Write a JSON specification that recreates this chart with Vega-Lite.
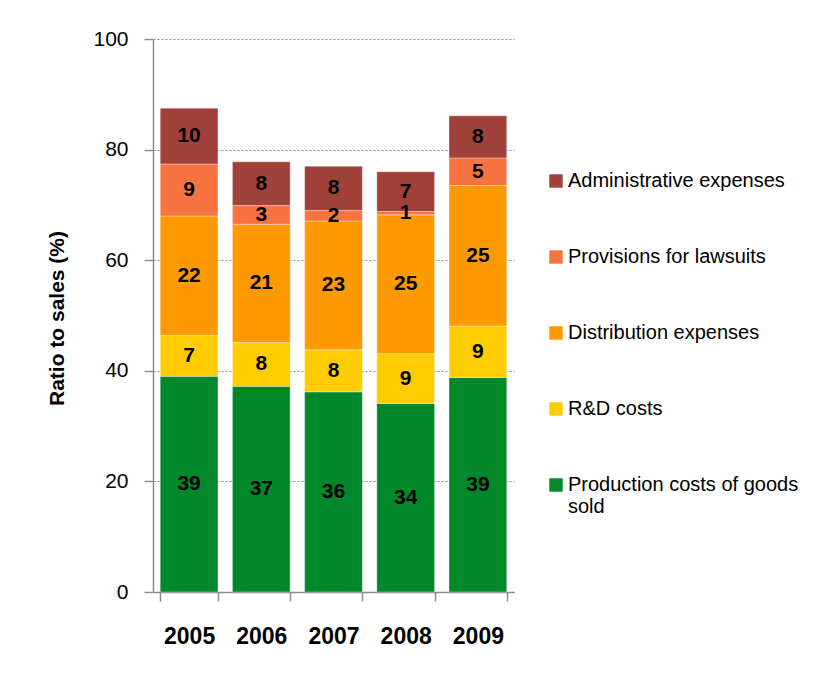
{
  "$schema": "https://vega.github.io/schema/vega-lite/v6.json",
  "width": 361,
  "height": 553,
  "autosize": {"type": "none"},
  "padding": {"left": 153, "top": 39, "right": 318, "bottom": 83},
  "background": "white",
  "config": {
    "view": {"stroke": null},
    "font": "Liberation Sans",
    "axis": {"labelFont": "Liberation Sans", "titleFont": "Liberation Sans"},
    "legend": {"labelFont": "Liberation Sans"},
    "text": {"font": "Liberation Sans"}
  },
  "data": {
    "values": [
      {"year": "2005", "cat": "Production costs of goods sold", "k": 1, "value": 39.0},
      {"year": "2005", "cat": "R&D costs", "k": 2, "value": 7.4},
      {"year": "2005", "cat": "Distribution expenses", "k": 3, "value": 21.6},
      {"year": "2005", "cat": "Provisions for lawsuits", "k": 4, "value": 9.4},
      {"year": "2005", "cat": "Administrative expenses", "k": 5, "value": 10.1},
      {"year": "2006", "cat": "Production costs of goods sold", "k": 1, "value": 37.2},
      {"year": "2006", "cat": "R&D costs", "k": 2, "value": 7.9},
      {"year": "2006", "cat": "Distribution expenses", "k": 3, "value": 21.4},
      {"year": "2006", "cat": "Provisions for lawsuits", "k": 4, "value": 3.4},
      {"year": "2006", "cat": "Administrative expenses", "k": 5, "value": 7.9},
      {"year": "2007", "cat": "Production costs of goods sold", "k": 1, "value": 36.2},
      {"year": "2007", "cat": "R&D costs", "k": 2, "value": 7.6},
      {"year": "2007", "cat": "Distribution expenses", "k": 3, "value": 23.3},
      {"year": "2007", "cat": "Provisions for lawsuits", "k": 4, "value": 1.9},
      {"year": "2007", "cat": "Administrative expenses", "k": 5, "value": 8.0},
      {"year": "2008", "cat": "Production costs of goods sold", "k": 1, "value": 34.1},
      {"year": "2008", "cat": "R&D costs", "k": 2, "value": 9.0},
      {"year": "2008", "cat": "Distribution expenses", "k": 3, "value": 25.1},
      {"year": "2008", "cat": "Provisions for lawsuits", "k": 4, "value": 0.6},
      {"year": "2008", "cat": "Administrative expenses", "k": 5, "value": 7.2},
      {"year": "2009", "cat": "Production costs of goods sold", "k": 1, "value": 38.8},
      {"year": "2009", "cat": "R&D costs", "k": 2, "value": 9.3},
      {"year": "2009", "cat": "Distribution expenses", "k": 3, "value": 25.4},
      {"year": "2009", "cat": "Provisions for lawsuits", "k": 4, "value": 5.0},
      {"year": "2009", "cat": "Administrative expenses", "k": 5, "value": 7.6}
    ]
  },
  "encoding": {
    "x": {
      "field": "year",
      "type": "nominal",
      "scale": {"paddingInner": 0.2, "paddingOuter": 0.1},
      "axis": {
        "title": null,
        "labelAngle": 0,
        "labelFontSize": 23,
        "labelFontWeight": "bold",
        "labelColor": "#000000",
        "labelPadding": 24,
        "tickSize": 9,
        "tickBand": "extent",
        "tickColor": "#8c8c8c",
        "tickWidth": 1.5,
        "domainColor": "#8c8c8c",
        "domainWidth": 1.5
      }
    },
    "y": {
      "field": "value",
      "type": "quantitative",
      "stack": "zero",
      "scale": {"domain": [0, 100]},
      "axis": {
        "values": [0, 20, 40, 60, 80, 100],
        "title": "Ratio to sales (%)",
        "titleFontSize": 21,
        "titleFontWeight": "bold",
        "titleColor": "#000000",
        "titleX": -96,
        "titleY": 279,
        "titleBaseline": "middle",
        "labelFontSize": 21,
        "labelColor": "#000000",
        "labelPadding": 16,
        "tickSize": 9,
        "tickColor": "#8c8c8c",
        "tickWidth": 1.5,
        "domainColor": "#8c8c8c",
        "domainWidth": 1.5,
        "grid": true,
        "gridColor": "#8c8c8c",
        "gridDash": [2, 2],
        "gridWidth": 1
      }
    },
    "order": {"field": "k", "type": "quantitative"}
  },
  "layer": [
    {
      "mark": {"type": "bar", "stroke": "#ffffff", "strokeWidth": 0.6, "strokeOpacity": 0.6},
      "encoding": {
        "color": {
          "field": "cat",
          "type": "nominal",
          "scale": {
            "domain": ["Administrative expenses", "Provisions for lawsuits", "Distribution expenses", "R&D costs", "Production costs of goods sold"],
            "range": ["#A0413A", "#F7733F", "#FF9900", "#FFCC00", "#00882B"]
          },
          "legend": {
            "title": null,
            "orient": "none",
            "legendX": 393,
            "legendY": 132,
            "symbolType": "square",
            "symbolSize": 180,
            "symbolStrokeWidth": 0,
            "labelFontSize": 20,
            "labelColor": "#000000",
            "labelOffset": 2,
            "labelLimit": 400,
            "rowPadding": 56,
            "labelExpr": "datum.label == 'Production costs of goods sold' ? ['Production costs of goods', 'sold'] : datum.label",
            "encode": {"labels": {"update": {"lineHeight": {"value": 30}}}}
          }
        }
      }
    },
    {
      "mark": {"type": "text", "fontSize": 21, "fontWeight": "bold", "color": "#000000", "baseline": "middle"},
      "encoding": {
        "y": {"field": "value", "type": "quantitative", "stack": "zero", "bandPosition": 0.5},
        "text": {"field": "value", "type": "quantitative", "format": ".0f"}
      }
    }
  ]
}
